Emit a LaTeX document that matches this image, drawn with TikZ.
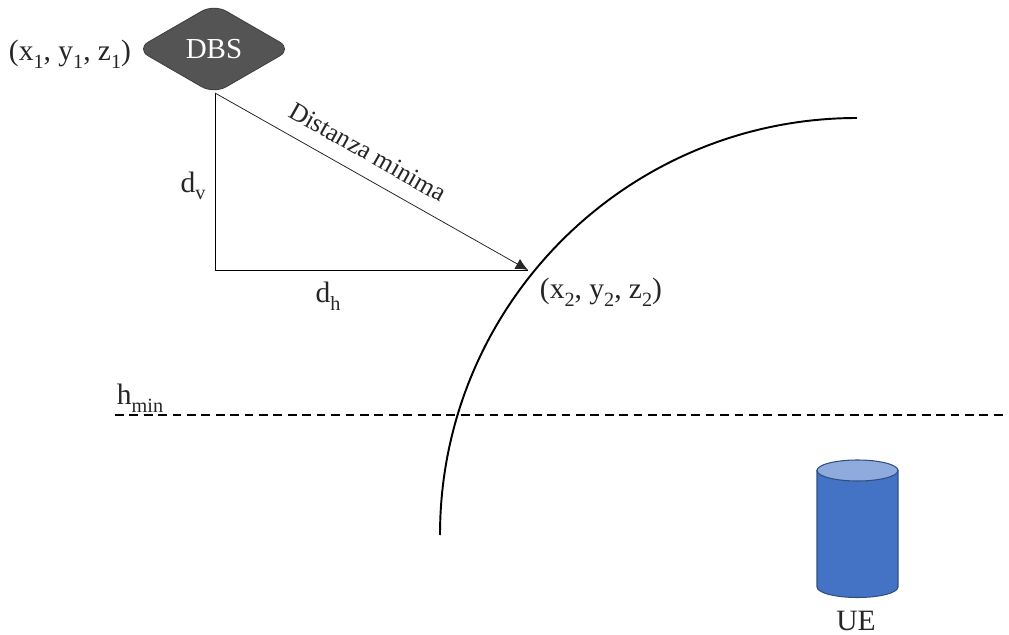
\documentclass[tikz,border=0pt]{standalone}
\usepackage{fontspec}
\setmainfont{Liberation Serif}
\usetikzlibrary{shapes.geometric, arrows.meta}

\newcommand{\low}[1]{\raisebox{-0.26em}{\fontsize{11.5}{12}\selectfont #1}}

\tikzset{
  lbl/.style={font=\fontsize{16.8}{19}\selectfont, text=black!85, inner sep=0pt},
  leg/.style={black, line width=0.55pt},
}

\begin{document}
\begin{tikzpicture}[x=0.02cm, y=-0.02cm]

\colorlet{cDbs}{black!67}
\definecolor{cUe}{HTML}{4472C4}
\definecolor{cUeTop}{HTML}{8FAADC}
\definecolor{cUeLine}{HTML}{2F4F7F}

\useasboundingbox (0,0) rectangle (1009,635);

%% Geometry: pixels of the picture, y going down.
\def\cx{817}
\def\cw{898}

%% ---------- drone and its position ----------
\node[diamond, rounded corners=8pt, aspect=1.69, fill=cDbs, draw=black!75, line width=0.5pt,
  minimum width=156*0.567pt, minimum height=90*0.567pt, inner sep=0pt, outer sep=0pt,
  text=white, font=\fontsize{16.5}{18}\selectfont] (dbs) at (214,49) {DBS};
\node[lbl] (pos1) at (70,54) {(x\low{1}, y\low{1}, z\low{1})};

%% ---------- triangle ----------
\coordinate (top) at (215,93);
\coordinate (corner) at (215,270);
\coordinate (tip) at (528,270);
\draw[leg] (top) -- (corner);
\draw[leg] (corner) -- (tip);
\draw[-{Latex[length=7pt,width=6.5pt]}, black!85, line width=0.45pt] (top) -- (tip);
\node[lbl, rotate=-29.5, font=\fontsize{14.7}{17}\selectfont] (dist) at (368,152) {Distanza minima};
\node[lbl] (dv) at (193,186) {d\low{v}};
\node[lbl] (dh) at (328,296) {d\low{h}};
\node[lbl] (pos2) at (601,292) {(x\low{2}, y\low{2}, z\low{2})};

%% ---------- coverage arc ----------
\coordinate (arcA) at (440,535);
\draw[black, line width=1.1pt] (arcA) arc[start angle=180, end angle=270, radius=417];

%% ---------- minimum height ----------
\coordinate (minA) at (115,415);
\coordinate (minB) at (1005,415);
\draw[black, line width=0.8pt, dash pattern=on 5pt off 3.2pt] (minA) -- (minB);
\node[lbl] (hmin) at (140,398) {h\low{min}};

%% ---------- user ----------
\filldraw[cUe, draw=cUeLine, line width=0.6pt]
  (\cx,470.5) -- (\cx,587) arc[start angle=180, end angle=0, x radius=40.5, y radius=10.5]
  -- (\cw,470.5) -- cycle;
\filldraw[cUeTop, draw=cUeLine, line width=0.6pt]
  (857.5,470.5) ellipse[x radius=40.5, y radius=10.5];
\node[lbl] (ue) at (856,621) {UE};

\end{tikzpicture}
\end{document}
